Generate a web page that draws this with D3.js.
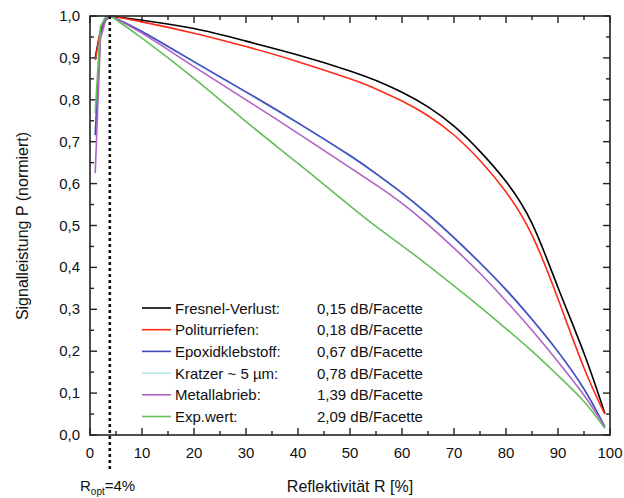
<!DOCTYPE html>
<html>
<head>
<meta charset="utf-8">
<script src="https://cdn.jsdelivr.net/npm/d3@7"></script>
<style>
  body { margin: 0; background: #fff; }
  svg { font-family: "Liberation Sans", Arial, sans-serif; }
</style>
</head>
<body>
<svg id="chart" width="624" height="498"></svg>
<script>
// Reflektivität R [%] at which the curves were read
const reflect = [1, 2, 3, 4, 10, 20, 30, 40, 50, 55, 60, 65, 70, 75, 80, 85, 90, 95, 99];

const fresnel = [0.900, 0.965, 0.990, 1.0, 0.990, 0.970, 0.940, 0.907, 0.869, 0.846, 0.818, 0.783, 0.737, 0.677, 0.605, 0.505, 0.352, 0.195, 0.052];
const politur = [0.895, 0.963, 0.990, 1.0, 0.986, 0.959, 0.927, 0.891, 0.850, 0.826, 0.797, 0.762, 0.716, 0.655, 0.580, 0.477, 0.325, 0.160, 0.050];
const epoxid  = [0.716, 0.955, 0.993, 1.0, 0.963, 0.891, 0.819, 0.745, 0.667, 0.624, 0.578, 0.527, 0.471, 0.411, 0.347, 0.276, 0.199, 0.110, 0.020];
const kratzer = [0.713, 0.953, 0.992, 1.0, 0.961, 0.889, 0.817, 0.743, 0.665, 0.622, 0.576, 0.525, 0.469, 0.409, 0.345, 0.274, 0.197, 0.108, 0.020];
const metall  = [0.625, 0.945, 0.990, 1.0, 0.959, 0.879, 0.800, 0.720, 0.638, 0.597, 0.553, 0.502, 0.446, 0.386, 0.320, 0.250, 0.175, 0.095, 0.020];
const expwert = [0.768, 0.975, 0.998, 1.0, 0.947, 0.851, 0.748, 0.648, 0.547, 0.498, 0.452, 0.405, 0.356, 0.306, 0.254, 0.200, 0.142, 0.080, 0.016];

const seriesNames  = ["Fresnel-Verlust:", "Politurriefen:", "Epoxidklebstoff:", "Kratzer ~ 5 µm:", "Metallabrieb:", "Exp.wert:"];
const seriesLoss   = ["0,15 dB/Facette", "0,18 dB/Facette", "0,67 dB/Facette", "0,78 dB/Facette", "1,39 dB/Facette", "2,09 dB/Facette"];
const seriesValues = [fresnel, politur, epoxid, kratzer, metall, expwert];
const seriesColors = ["#000000", "#ff2a1a", "#4646c0", "#b0e8ea", "#b062c4", "#62c056"];
// order in which the lines are painted (later = on top)
const drawOrder = [3, 0, 1, 2, 4, 5];

const xTicks = d3.range(0, 101, 10);
const yTicks = d3.range(0, 11).map(d => d / 10);
const rOpt = 4;

const svg = d3.select("#chart");
const x = d3.scaleLinear().domain([0, 100]).range([90, 610]);
const y = d3.scaleLinear().domain([0, 1]).range([435, 16]);

const comma = v => d3.format(".1f")(v).replace(".", ",");

// minor ticks
const xMinor = d3.range(5, 100, 10);
const yMinor = d3.range(0, 10).map(d => d / 10 + 0.05);

const frame = svg.append("g").attr("stroke", "#222").attr("stroke-width", 1.4);

function tickLines(g, vals, fn) {
  g.selectAll(null).data(vals).enter().append("line").each(fn);
}

// bottom / top
[[435, -1], [16, 1]].forEach(([yy, dir]) => {
  tickLines(frame, xTicks, function(d) {
    d3.select(this).attr("x1", x(d)).attr("x2", x(d)).attr("y1", yy).attr("y2", yy + dir * 7);
  });
  tickLines(frame, xMinor, function(d) {
    d3.select(this).attr("x1", x(d)).attr("x2", x(d)).attr("y1", yy).attr("y2", yy + dir * 4);
  });
});
// left / right
[[90, 1], [610, -1]].forEach(([xx, dir]) => {
  tickLines(frame, yTicks, function(d) {
    d3.select(this).attr("y1", y(d)).attr("y2", y(d)).attr("x1", xx).attr("x2", xx + dir * 7);
  });
  tickLines(frame, yMinor, function(d) {
    d3.select(this).attr("y1", y(d)).attr("y2", y(d)).attr("x1", xx).attr("x2", xx + dir * 4);
  });
});

// tick labels
svg.append("g").selectAll("text").data(xTicks).enter().append("text")
  .attr("x", d => x(d)).attr("y", 458)
  .attr("text-anchor", "middle").attr("font-size", 15).attr("fill", "#111")
  .text(d => d);
svg.append("g").selectAll("text").data(yTicks).enter().append("text")
  .attr("x", 80).attr("y", d => y(d) + 5)
  .attr("text-anchor", "end").attr("font-size", 15).attr("fill", "#111")
  .text(d => comma(d));

// curves: straight rise up to R_opt, smooth fall after it
const pts = vals => vals.map((v, i) => [reflect[i], v]);
const riseLine = d3.line().x(d => x(d[0])).y(d => y(d[1]));
const fallLine = d3.line().x(d => x(d[0])).y(d => y(d[1])).curve(d3.curveNatural);

const curves = svg.append("g").attr("fill", "none").attr("stroke-width", 1.6);
drawOrder.forEach(i => {
  const p = pts(seriesValues[i]);
  curves.append("path").attr("stroke", seriesColors[i])
    .attr("d", riseLine(p.filter(d => d[0] <= rOpt)));
  curves.append("path").attr("stroke", seriesColors[i])
    .attr("d", fallLine(p.filter(d => d[0] >= rOpt)));
});

// R_opt marker
svg.append("line")
  .attr("x1", x(rOpt) - 1).attr("x2", x(rOpt) - 1)
  .attr("y1", y(1)).attr("y2", 472)
  .attr("stroke", "#111").attr("stroke-width", 2.6)
  .attr("stroke-dasharray", "3,3");

// frame box
svg.append("rect")
  .attr("x", 90).attr("y", 16).attr("width", 520).attr("height", 419)
  .attr("fill", "none").attr("stroke", "#222").attr("stroke-width", 1.6);

// legend
const leg = svg.append("g");
seriesNames.forEach((name, i) => {
  const ly = 308 + i * 21.7;
  leg.append("line").attr("x1", 142).attr("x2", 171).attr("y1", ly).attr("y2", ly)
    .attr("stroke", seriesColors[i]).attr("stroke-width", 1.6);
  leg.append("text").attr("x", 175).attr("y", ly + 5.5).attr("font-size", 15).attr("fill", "#111").text(name);
  leg.append("text").attr("x", 317).attr("y", ly + 5.5).attr("font-size", 15).attr("fill", "#111").text(seriesLoss[i]);
});

// axis titles
svg.append("text").attr("x", 350).attr("y", 492).attr("text-anchor", "middle")
  .attr("font-size", 16).attr("fill", "#111").text("Reflektivität R [%]");
svg.append("text")
  .attr("transform", "translate(28,226) rotate(-90)")
  .attr("text-anchor", "middle").attr("font-size", 16).attr("fill", "#111")
  .text("Signalleistung P (normiert)");

const ropt = svg.append("text").attr("x", 80).attr("y", 491).attr("font-size", 15).attr("fill", "#111");
ropt.append("tspan").text("R");
ropt.append("tspan").attr("font-size", 10).attr("dy", 4).text("opt");
ropt.append("tspan").attr("dy", -4).text("=4%");
</script>
</body>
</html>
